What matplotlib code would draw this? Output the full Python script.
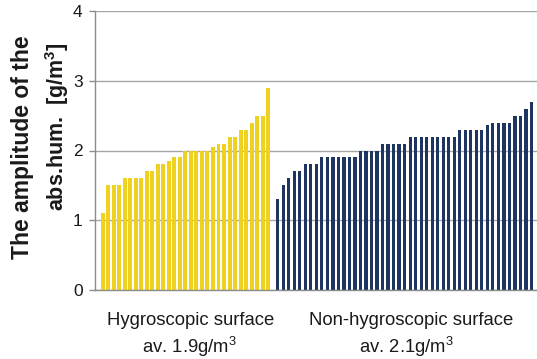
import matplotlib
matplotlib.use("Agg")
import matplotlib.pyplot as plt
import numpy as np

plt.rcParams["font.family"] = ["Liberation Sans", "DejaVu Sans"]
plt.rcParams["mathtext.fontset"] = "custom"
plt.rcParams["mathtext.rm"] = "Liberation Sans"
plt.rcParams["mathtext.bf"] = "Liberation Sans:bold"

# amplitude of absolute humidity per room, sorted [g/m3]
hygroscopic = [1.1, 1.5, 1.5, 1.5, 1.6, 1.6, 1.6, 1.6, 1.7, 1.7, 1.8, 1.8, 1.85,
               1.9, 1.9, 2.0, 2.0, 2.0, 2.0, 2.0, 2.05, 2.1, 2.1, 2.2, 2.2,
               2.3, 2.3, 2.4, 2.5, 2.5, 2.9]
non_hygroscopic = [1.3, 1.5, 1.6, 1.7, 1.7, 1.8, 1.8, 1.8, 1.9, 1.9, 1.9, 1.9,
                   1.9, 1.9, 1.9, 2.0, 2.0, 2.0, 2.0, 2.1, 2.1, 2.1, 2.1, 2.1,
                   2.2, 2.2, 2.2, 2.2, 2.2, 2.2, 2.2, 2.2, 2.2, 2.3, 2.3, 2.3,
                   2.3, 2.3, 2.37, 2.4, 2.4, 2.4, 2.4, 2.5, 2.5, 2.6, 2.7]
group_labels = ["Hygroscopic surface", "Non-hygroscopic surface"]
group_means = ["av. 1.9g/m$^3$", "av. 2.1g/m$^3$"]
yticks = [0, 1, 2, 3, 4]

YELLOW = "#eed21f"
NAVY = "#1d3560"
GRID = "#a6a6a6"

fig = plt.figure(figsize=(5.37, 3.59), dpi=100)
ax = fig.add_axes([95 / 537, 69 / 359, 442 / 537, 279 / 359])

x1 = np.arange(len(hygroscopic))
x2 = len(hygroscopic) - 1 + 1.74 + np.arange(len(non_hygroscopic))

ax.bar(x1, hygroscopic, width=0.72, color=YELLOW, zorder=2)
ax.bar(x2, non_hygroscopic, width=0.58, color=NAVY, zorder=2)

ax.set_xlim(-1.39, x2[-1] + 1.0)
ax.set_ylim(0, 4)
ax.set_yticks(yticks)
ax.set_xticks([])
ax.yaxis.grid(True, color=GRID, linewidth=1.0, zorder=0)
ax.set_axisbelow(True)

for side in ["top", "right"]:
    ax.spines[side].set_visible(False)
for side in ["left", "bottom"]:
    ax.spines[side].set_color("#8c8c8c")
    ax.spines[side].set_linewidth(1.0)

ax.tick_params(axis="y", length=4, width=1, color="#8c8c8c", pad=5,
               labelsize=12.5, labelcolor="#1a1a1a")

# y label: two lines placed separately
fig.text(23 / 537, 1 - 147.5 / 359, "The amplitude of the", rotation=90,
         ha="center", va="center", fontsize=16.5, fontweight="bold",
         color="#1a1a1a")
fig.text(57 / 537, 1 - 127 / 359, r"abs.hum.  [g/m$^\mathbf{3}$]", rotation=90,
         ha="center", va="center", fontsize=15.5, fontweight="bold",
         color="#1a1a1a")

# group captions under the axis
for xc, xm, name, mean in zip([191, 411.5], [190, 407], group_labels, group_means):
    fig.text(xc / 537, 1 - 325 / 359, name, ha="center", va="baseline",
             fontsize=13.3, color="#1a1a1a")
    fig.text(xm / 537, 1 - 353 / 359, mean, ha="center", va="baseline",
             fontsize=13.3, color="#1a1a1a")

fig.savefig("out.png", dpi=100)
